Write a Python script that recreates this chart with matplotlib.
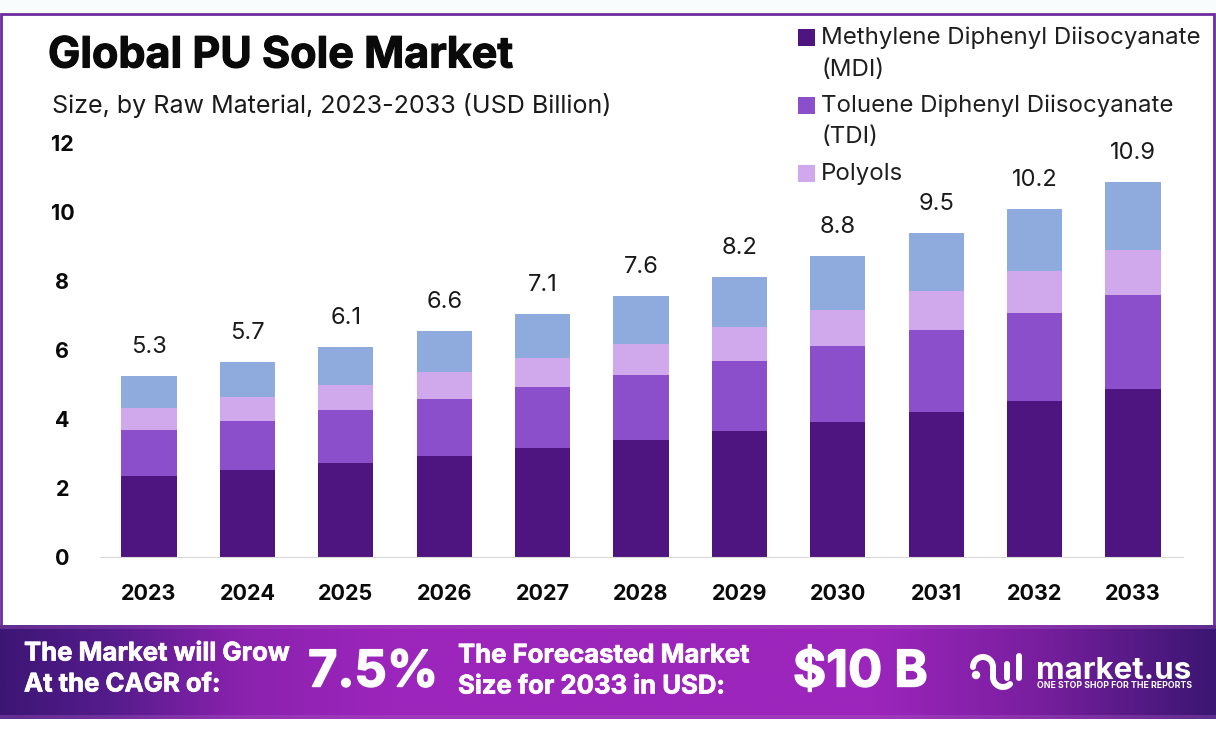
import numpy as np
import matplotlib.pyplot as plt
import matplotlib.patheffects as pe
from matplotlib.colors import LinearSegmentedColormap
from matplotlib.patches import Rectangle

plt.rcParams["font.family"] = ["Inter", "DejaVu Sans"]

# values
years = ["2023", "2024", "2025", "2026", "2027", "2028", "2029", "2030", "2031", "2032", "2033"]
mdi = [2.35, 2.52, 2.72, 2.93, 3.16, 3.39, 3.65, 3.91, 4.20, 4.52, 4.87]
tdi = [1.33, 1.42, 1.54, 1.65, 1.77, 1.89, 2.03, 2.21, 2.38, 2.55, 2.72]
polyols = [0.64, 0.70, 0.73, 0.78, 0.84, 0.89, 0.99, 1.04, 1.13, 1.22, 1.31]
others = [0.93, 1.01, 1.10, 1.19, 1.27, 1.40, 1.45, 1.56, 1.68, 1.80, 1.97]
totals = ["5.3", "5.7", "6.1", "6.6", "7.1", "7.6", "8.2", "8.8", "9.5", "10.2", "10.9"]
yticks = [0, 2, 4, 6, 8, 10, 12]

series_colors = ["#4E1580", "#8B4FCB", "#D0A8EC", "#8FAADC"]
legend_rows = [
    ("Methylene Diphenyl Diisocyanate", 36, series_colors[0]),
    ("(MDI)", 68, None),
    ("Toluene Diphenyl Diisocyanate", 104, series_colors[1]),
    ("(TDI)", 135, None),
    ("Polyols", 172, series_colors[2]),
]

W, H = 1216, 737
fig = plt.figure(figsize=(W / 100, H / 100), dpi=100, facecolor="white")

# overlay in pixel coordinates for frame, banner, title
bg = fig.add_axes([0, 0, 1, 1], zorder=0)
bg.set_xlim(0, W)
bg.set_ylim(H, 0)
bg.axis("off")
bg.add_patch(Rectangle((0, 0), W, 13, color="#F8FCFD", lw=0))
bg.add_patch(Rectangle((1, 14), W - 3, 612, fill=False, ec="#6A2C9E", lw=2))

cmap = LinearSegmentedColormap.from_list(
    "banner",
    [(0, "#3D1675"), (0.09, "#551C8C"), (0.2, "#8B22AE"), (0.32, "#9C25BC"),
     (0.72, "#9C25BC"), (0.85, "#7A1FA0"), (1, "#3B1672")],
)
bg.imshow(np.linspace(0, 1, 512).reshape(1, -1), cmap=cmap, aspect="auto",
          extent=(0, W, 719, 625), zorder=1)
bg.set_xlim(0, W)
bg.set_ylim(H, 0)
bg.add_patch(Rectangle((0, 625), W, 4, color="#A65BC0", alpha=0.35, lw=0, zorder=2))
bg.add_patch(Rectangle((0, 715), W, 4, color="#A65BC0", alpha=0.35, lw=0, zorder=2))

title = bg.text(48, 56, "Global PU Sole Market", fontsize=31, fontweight="bold", color="#0A0A0A", va="center")
title.set_path_effects([pe.withStroke(linewidth=0.8, foreground="#0A0A0A")])
bg.text(52, 105, "Size, by Raw Material, 2023-2033 (USD Billion)", fontsize=18.05, color="#1A1A1A", va="center")

# legend rows
for label, y, color in legend_rows:
    if color is not None:
        bg.add_patch(Rectangle((798, y - 7), 17, 17, color=color, lw=0))
    bg.text(821, y + 2, label, fontsize=17.3, color="#1F1F1F", va="center")

# banner text
text_kw = dict(color="white", fontweight="bold", va="center", zorder=3)
heavy = [pe.withStroke(linewidth=0.5, foreground="white")]
for x, y, s in [(24, 654, "The Market will Grow"), (24, 685, "At the CAGR of:"),
                (458, 656, "The Forecasted Market"), (458, 687, "Size for 2033 in USD:")]:
    bg.text(x, y, s, fontsize=18.5, path_effects=heavy, **text_kw)
for x, s in [(308, "7.5%"), (793, "$10 B")]:
    t = bg.text(x, 673, s, fontsize=36.5, **text_kw)
    t.set_path_effects([pe.withStroke(linewidth=1, foreground="white")])

# market.us logo
arc = np.linspace(np.pi, 0, 30)
u_arc = np.linspace(np.pi, np.pi / 4, 30)
logo_kw = dict(color="white", lw=4.3, solid_capstyle="round", zorder=3)
bg.add_patch(plt.Circle((976, 675), 3.5, color="white", zorder=3))
bg.plot(983 + 10 * np.cos(arc), 667 - 10 * np.sin(arc), **logo_kw)
bg.plot([993, 993], [667, 677], **logo_kw)
bg.plot(1003 + 10 * np.cos(u_arc), 677 + 10 * np.sin(u_arc), **logo_kw)
bg.plot([1007, 1007], [664, 678], **logo_kw)
bg.plot([1019, 1019], [656, 678], **logo_kw)
bg.text(1036, 671, "market.us", fontsize=22.5, **text_kw)
bg.text(1037, 685, "ONE STOP SHOP FOR THE REPORTS", fontsize=6.3, **text_kw)

# main chart
ax = fig.add_axes([100 / W, 1 - 557 / H, (1183 - 100) / W, (557 - 143) / H], zorder=2)
ax.patch.set_alpha(0)
x = np.arange(len(years))
bottom = np.zeros(len(years))
for vals, color in zip([mdi, tdi, polyols, others], series_colors):
    ax.bar(x, vals, width=0.56, bottom=bottom, color=color, linewidth=0)
    bottom += np.array(vals)
for xi, top, label in zip(x, bottom, totals):
    ax.annotate(label, (xi, top), xytext=(0, 21), textcoords="offset points",
                ha="center", va="center", fontsize=17, color="#1A1A1A")

ax.set_xlim(-0.498, 10.508)
ax.set_ylim(0, 12)
ax.set_xticks(x, years)
ax.set_yticks(yticks)
ax.tick_params(axis="both", length=0, labelsize=15.5)
ax.tick_params(axis="x", pad=19.5)
ax.tick_params(axis="y", pad=27)
for lab in ax.get_xticklabels() + ax.get_yticklabels():
    lab.set_fontweight("bold")
    lab.set_color("#0A0A0A")
for lab in ax.get_yticklabels():
    lab.set_ha("center")
for side in ["top", "right", "left"]:
    ax.spines[side].set_visible(False)
ax.spines["bottom"].set_color("#D9D9D9")

fig.savefig("out.png", dpi=100)
